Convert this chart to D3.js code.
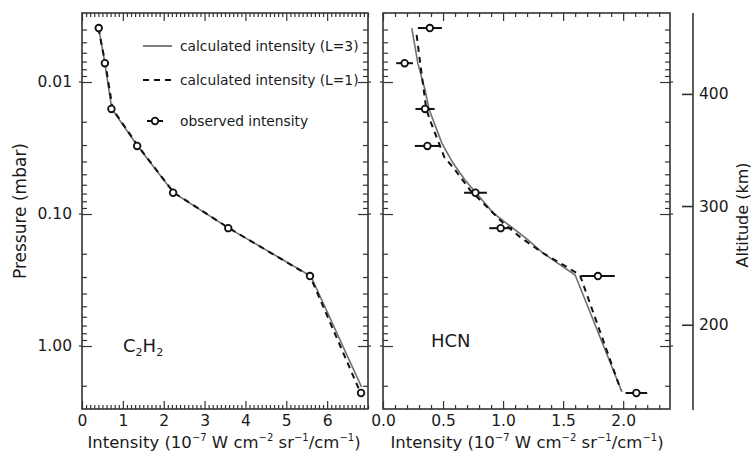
<!DOCTYPE html>
<html><head><meta charset="utf-8">
<script src="https://cdn.jsdelivr.net/npm/d3@7"></script>
<style>
body{margin:0;background:#fff}
svg{display:block}
text{font-family:"DejaVu Sans",sans-serif;fill:#1a1a1a}
</style>
</head><body>
<svg id="c" width="753" height="459"></svg>
<script>
// ---------- data ----------
const pressureObs = [0.0039, 0.0072, 0.016, 0.0305, 0.069, 0.128, 0.295, 2.27];
const c2h2Obs = [0.41, 0.56, 0.72, 1.35, 2.23, 3.58, 5.58, 6.83];
const c2h2Err = [0.08, 0.08, 0.08, 0.08, 0.08, 0.08, 0.08, 0.08];
const hcnObs = [0.39, 0.18, 0.35, 0.37, 0.77, 0.98, 1.79, 2.11];
const hcnErr = [0.10, 0.07, 0.08, 0.105, 0.095, 0.095, 0.14, 0.09];

const c2h2CalcL3P = [0.0039, 0.0072, 0.016, 0.0305, 0.069, 0.128, 0.295, 2.04];
const c2h2CalcL3 = [0.41, 0.56, 0.73, 1.36, 2.24, 3.59, 5.6, 6.84];
const c2h2CalcL1P = [0.0039, 0.0072, 0.016, 0.0305, 0.069, 0.128, 0.295, 2.2];
const c2h2CalcL1 = [0.40, 0.57, 0.75, 1.37, 2.25, 3.6, 5.58, 6.8];

const hcnCalcL3P = [0.0039, 0.0072, 0.0115, 0.016, 0.029, 0.0411, 0.0553, 0.098, 0.155, 0.197, 0.29, 2.23];
const hcnCalcL3 = [0.24, 0.29, 0.35, 0.383, 0.49, 0.583, 0.683, 0.917, 1.2, 1.33, 1.6, 1.99];
const hcnCalcL1P = [0.0044, 0.0072, 0.016, 0.0204, 0.037, 0.0463, 0.0658, 0.0885, 0.117, 0.149, 0.197, 0.252, 0.29, 2.15];
const hcnCalcL1 = [0.28, 0.31, 0.36, 0.40, 0.51, 0.60, 0.725, 0.867, 1.0, 1.14, 1.33, 1.53, 1.64, 1.98];

const pressureTicks = [0.01, 0.1, 1];
const pressureTickLabels = ["0.01", "0.10", "1.00"];
const c2h2XTicks = [0, 1, 2, 3, 4, 5, 6];
const hcnXTicks = [0, 0.5, 1, 1.5, 2];
const hcnXTickLabels = ["0.0", "0.5", "1.0", "1.5", "2.0"];
const altitudeKm = [400, 300, 200];
const altitudePressure = [0.0123, 0.087, 0.69];
const legendLabels = ["calculated intensity (L=3)", "calculated intensity (L=1)", "observed intensity"];

// ---------- layout ----------
const svg = d3.select("#c");
const T = 13, B = 409;
const y = d3.scaleLog().domain([0.003, 3]).range([T, B]);
const xL = d3.scaleLinear().domain([0, 7]).range([82, 368]);
const xR = d3.scaleLinear().domain([0, 2.39]).range([383, 670]);
const frameColor = "#333";

function minorLog() {
  return y.ticks().filter(v => v > 0.003 && v < 3 && !pressureTicks.some(p => Math.abs(p - v) / p < 1e-6));
}

function panel(x, xMajor, xFmt, xMinorStep, showYLabels) {
  const [x0, x1] = x.range();
  const xMinor = d3.range(0, x.domain()[1] + 1e-9, xMinorStep).filter(v => !xMajor.some(m => Math.abs(m - v) < 1e-6));
  const g = svg.append("g");
  const style = a => { a.select(".domain").remove(); a.selectAll("line").attr("stroke", frameColor).attr("stroke-width", 1.2); a.selectAll("text").attr("font-size", 15.5).attr("fill", "#1a1a1a").attr("font-family", "DejaVu Sans"); };
  g.append("g").attr("transform", `translate(0,${B})`).call(d3.axisBottom(x).tickValues(xMajor).tickSize(-8).tickPadding(6).tickFormat(xFmt)).call(style);
  g.append("g").attr("transform", `translate(0,${B})`).call(d3.axisBottom(x).tickValues(xMinor).tickSize(-4).tickFormat("")).call(style);
  g.append("g").attr("transform", `translate(0,${T})`).call(d3.axisTop(x).tickValues(xMajor).tickSize(-8).tickFormat("")).call(style);
  g.append("g").attr("transform", `translate(0,${T})`).call(d3.axisTop(x).tickValues(xMinor).tickSize(-4).tickFormat("")).call(style);
  const la = d3.axisLeft(y).tickValues(pressureTicks).tickSize(-10).tickPadding(10)
    .tickFormat((d, i) => showYLabels ? pressureTickLabels[i] : "");
  g.append("g").attr("transform", `translate(${x0},0)`).call(la).call(style);
  g.append("g").attr("transform", `translate(${x0},0)`).call(d3.axisLeft(y).tickValues(minorLog()).tickSize(-5).tickFormat("")).call(style);
  g.append("g").attr("transform", `translate(${x1},0)`).call(d3.axisRight(y).tickValues(pressureTicks).tickSize(-10).tickFormat("")).call(style);
  g.append("g").attr("transform", `translate(${x1},0)`).call(d3.axisRight(y).tickValues(minorLog()).tickSize(-5).tickFormat("")).call(style);
  pressureTicks.forEach(p => {
    g.append("line").attr("x1", x0 - 3).attr("x2", x0).attr("y1", y(p)).attr("y2", y(p)).attr("stroke", frameColor).attr("stroke-width", 1.2);
    g.append("line").attr("x1", x1).attr("x2", x1 + 3).attr("y1", y(p)).attr("y2", y(p)).attr("stroke", frameColor).attr("stroke-width", 1.2);
  });
  g.append("rect").attr("x", x0).attr("y", T).attr("width", x1 - x0).attr("height", B - T)
    .attr("fill", "none").attr("stroke", frameColor).attr("stroke-width", 1.6);
}

panel(xL, c2h2XTicks, d3.format("d"), 0.1, true);
panel(xR, hcnXTicks, (d, i) => hcnXTickLabels[i], 0.1, false);

function curve(x, vals, pres, dashed) {
  const line = d3.line().x(d => x(d[0])).y(d => y(d[1]));
  svg.append("path").datum(vals.map((v, i) => [v, pres[i]])).attr("d", line)
    .attr("fill", "none")
    .attr("stroke", dashed ? "#111" : "#707070")
    .attr("stroke-width", dashed ? 2 : 1.6)
    .attr("stroke-dasharray", dashed ? "6,5" : null);
}
function observed(x, vals, errs) {
  const g = svg.append("g");
  vals.forEach((v, i) => {
    g.append("line").attr("x1", x(v - errs[i])).attr("x2", x(v + errs[i]))
      .attr("y1", y(pressureObs[i])).attr("y2", y(pressureObs[i]))
      .attr("stroke", "#111").attr("stroke-width", 2);
  });
  g.selectAll("circle").data(vals).join("circle")
    .attr("cx", d => x(d)).attr("cy", (d, i) => y(pressureObs[i])).attr("r", 3.3)
    .attr("fill", "#fff").attr("stroke", "#111").attr("stroke-width", 1.8);
}

curve(xL, c2h2CalcL3, c2h2CalcL3P, false);
curve(xL, c2h2CalcL1, c2h2CalcL1P, true);
observed(xL, c2h2Obs, c2h2Err);
curve(xR, hcnCalcL3, hcnCalcL3P, false);
curve(xR, hcnCalcL1, hcnCalcL1P, true);
observed(xR, hcnObs, hcnErr);

// legend
const lg = svg.append("g");
const legY = [46, 80, 121];
lg.append("line").attr("x1", 143).attr("x2", 172).attr("y1", legY[0]).attr("y2", legY[0]).attr("stroke", "#707070").attr("stroke-width", 1.8);
lg.append("line").attr("x1", 143).attr("x2", 172).attr("y1", legY[1]).attr("y2", legY[1]).attr("stroke", "#111").attr("stroke-width", 2).attr("stroke-dasharray", "6,5");
lg.append("line").attr("x1", 147).attr("x2", 163).attr("y1", legY[2]).attr("y2", legY[2]).attr("stroke", "#111").attr("stroke-width", 2);
lg.append("circle").attr("cx", 155).attr("cy", legY[2]).attr("r", 3.3).attr("fill", "#fff").attr("stroke", "#111").attr("stroke-width", 1.8);
legendLabels.forEach((t, i) => {
  lg.append("text").attr("x", 180).attr("y", legY[i]).attr("dy", "0.35em").attr("font-size", 13.8).text(t);
});

// species labels
const s1 = svg.append("text").attr("x", 123).attr("y", 352).attr("font-size", 18);
s1.append("tspan").text("C");
s1.append("tspan").attr("font-size", 11).attr("dy", 4).text("2");
s1.append("tspan").attr("dy", -4).text("H");
s1.append("tspan").attr("font-size", 11).attr("dy", 4).text("2");
svg.append("text").attr("x", 431).attr("y", 347).attr("font-size", 18).text("HCN");

// axis titles
function intensityTitle(cx) {
  const t = svg.append("text").attr("x", cx).attr("y", 448).attr("text-anchor", "middle").attr("font-size", 16.5);
  const parts = [["Intensity (10", 0], ["−7", 1], [" W cm", 0], ["−2", 1], [" sr", 0], ["−1", 1], ["/cm", 0], ["−1", 1], [")", 0]];
  let prev = 0;
  parts.forEach(([s, sup]) => {
    const sp = t.append("tspan").text(s);
    const shift = sup ? -7 : 0;
    sp.attr("dy", shift - prev);
    if (sup) sp.attr("font-size", 10);
    prev = shift;
  });
}
intensityTitle(224);
intensityTitle(527);

svg.append("text").attr("transform", "translate(20,211) rotate(-90)").attr("text-anchor", "middle")
  .attr("dy", "0.35em").attr("font-size", 17).text("Pressure (mbar)");

// altitude axis
const altScale = d3.scaleLinear().domain(altitudeKm).range(altitudePressure.map(p => y(p)));
const ax = svg.append("g").attr("transform", "translate(693,0)")
  .call(d3.axisRight(altScale).tickValues(altitudeKm).tickSize(-11).tickPadding(6));
ax.select(".domain").remove();
ax.selectAll("line").attr("stroke", frameColor).attr("stroke-width", 1.6);
ax.selectAll("text").attr("font-size", 15.5).attr("fill", "#1a1a1a").attr("font-family", "DejaVu Sans");
svg.append("line").attr("x1", 693).attr("x2", 693).attr("y1", T).attr("y2", B + 1).attr("stroke", frameColor).attr("stroke-width", 1.6);
svg.append("text").attr("transform", "translate(742,215) rotate(-90)").attr("text-anchor", "middle")
  .attr("dy", "0.35em").attr("font-size", 16).text("Altitude (km)");
</script>
</body></html>
